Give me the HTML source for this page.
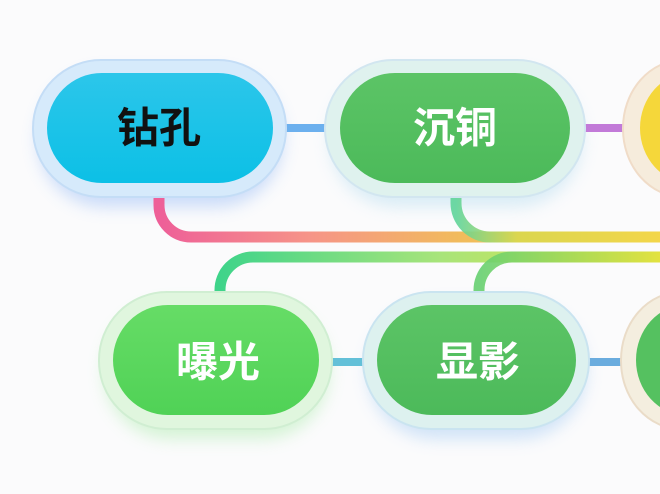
<!DOCTYPE html>
<html><head><meta charset="utf-8">
<style>
html,body{margin:0;padding:0;background:#fbfbfc;}
svg{display:block}
text{font-family:"Liberation Sans","Noto Sans CJK SC",sans-serif;font-weight:700;font-size:42px;text-anchor:middle;dominant-baseline:central}
</style></head><body>
<svg width="660" height="494" viewBox="0 0 660 494" xmlns="http://www.w3.org/2000/svg">
<defs>
<linearGradient id="g1" x1="159" y1="0" x2="660" y2="0" gradientUnits="userSpaceOnUse">
<stop offset="0" stop-color="#ee5f98"/><stop offset="0.3" stop-color="#f69488"/><stop offset="0.6" stop-color="#f1bb5c"/><stop offset="1" stop-color="#f3d24a"/></linearGradient>
<linearGradient id="g2" x1="456" y1="0" x2="660" y2="0" gradientUnits="userSpaceOnUse">
<stop offset="0" stop-color="#5fd49a"/><stop offset="0.3" stop-color="#d8d84e"/><stop offset="1" stop-color="#f3d64a"/></linearGradient>
<linearGradient id="g3" x1="220" y1="0" x2="660" y2="0" gradientUnits="userSpaceOnUse">
<stop offset="0" stop-color="#3fd48a"/><stop offset="0.5" stop-color="#a8e47a"/><stop offset="1" stop-color="#e6e23e"/></linearGradient>
<linearGradient id="g4" x1="479" y1="0" x2="660" y2="0" gradientUnits="userSpaceOnUse">
<stop offset="0" stop-color="#66d070"/><stop offset="1" stop-color="#e2e240"/></linearGradient>
<linearGradient id="c1" x1="0" y1="0" x2="0" y2="1"><stop offset="0" stop-color="#2cc6ea"/><stop offset="1" stop-color="#0cc0e6"/></linearGradient>
<linearGradient id="c2" x1="0" y1="0" x2="0" y2="1"><stop offset="0" stop-color="#5cc466"/><stop offset="1" stop-color="#4cba5a"/></linearGradient>
<linearGradient id="c4" x1="0" y1="0" x2="0" y2="1"><stop offset="0" stop-color="#66dc66"/><stop offset="1" stop-color="#50d256"/></linearGradient>
<filter id="sh" x="-30%" y="-30%" width="160%" height="170%"><feGaussianBlur stdDeviation="8"/></filter>
</defs>
<rect width="660" height="494" fill="#fbfbfc"/>
<rect x="38" y="72" width="245" height="135" rx="67" fill="#8fb6f5" opacity="0.45" filter="url(#sh)"/>
<rect x="330" y="72" width="252" height="135" rx="67" fill="#a6d6ec" opacity="0.4" filter="url(#sh)"/>
<rect x="104" y="304" width="225" height="135" rx="67" fill="#a6eaa6" opacity="0.45" filter="url(#sh)"/>
<rect x="368" y="304" width="218" height="135" rx="67" fill="#9cc6f2" opacity="0.45" filter="url(#sh)"/>
<path d="M159 197 V205 A32 32 0 0 0 191 237 H660" fill="none" stroke="url(#g1)" stroke-width="11"/>
<path d="M456 197 V203 A34 34 0 0 0 490 237 H660" fill="none" stroke="url(#g2)" stroke-width="11" opacity="0.9"/>
<path d="M220 295 V290 A33 33 0 0 1 253 257 H660" fill="none" stroke="url(#g3)" stroke-width="11"/>
<path d="M479 295 V290 A33 33 0 0 1 512 257 H660" fill="none" stroke="url(#g4)" stroke-width="11" opacity="0.9"/>
<rect x="284" y="124" width="42" height="8" fill="#6cb0ee"/>
<rect x="583" y="124" width="42" height="8" fill="#c27ad8"/>
<rect x="330" y="358" width="35" height="8" fill="#63c0d8"/>
<rect x="587" y="358" width="36" height="8" fill="#6aacde"/>
<rect x="33" y="60" width="253" height="137" rx="68" fill="#d6eafb" stroke="#c4ddf6" stroke-width="2"/>
<rect x="47" y="73" width="226" height="110" rx="55" fill="url(#c1)"/>
<text x="159" y="128" fill="#111">钻孔</text>
<rect x="325" y="60" width="260" height="137" rx="68" fill="#dff2ee" stroke="#d2e6f0" stroke-width="2"/>
<rect x="340" y="73" width="230" height="110" rx="55" fill="url(#c2)"/>
<text x="455" y="128" fill="#fff">沉铜</text>
<rect x="623" y="60" width="120" height="137" rx="68" fill="#f6ecdc" stroke="#f0dcc8" stroke-width="2"/>
<rect x="640" y="73" width="100" height="110" rx="55" fill="#f5d73a"/>
<rect x="99" y="292" width="233" height="137" rx="68" fill="#e0f6de" stroke="#d0eed2" stroke-width="2"/>
<rect x="113" y="305" width="206" height="110" rx="55" fill="url(#c4)"/>
<text x="218" y="362" fill="#fff">曝光</text>
<rect x="363" y="292" width="226" height="137" rx="68" fill="#ddf1ef" stroke="#cae4f0" stroke-width="2"/>
<rect x="377" y="305" width="199" height="110" rx="55" fill="url(#c2)"/>
<text x="478" y="362" fill="#fff">显影</text>
<rect x="621" y="292" width="120" height="137" rx="68" fill="#f4eedf" stroke="#eadcc8" stroke-width="2"/>
<rect x="636" y="305" width="100" height="110" rx="55" fill="#55c160"/>
</svg>
</body></html>
